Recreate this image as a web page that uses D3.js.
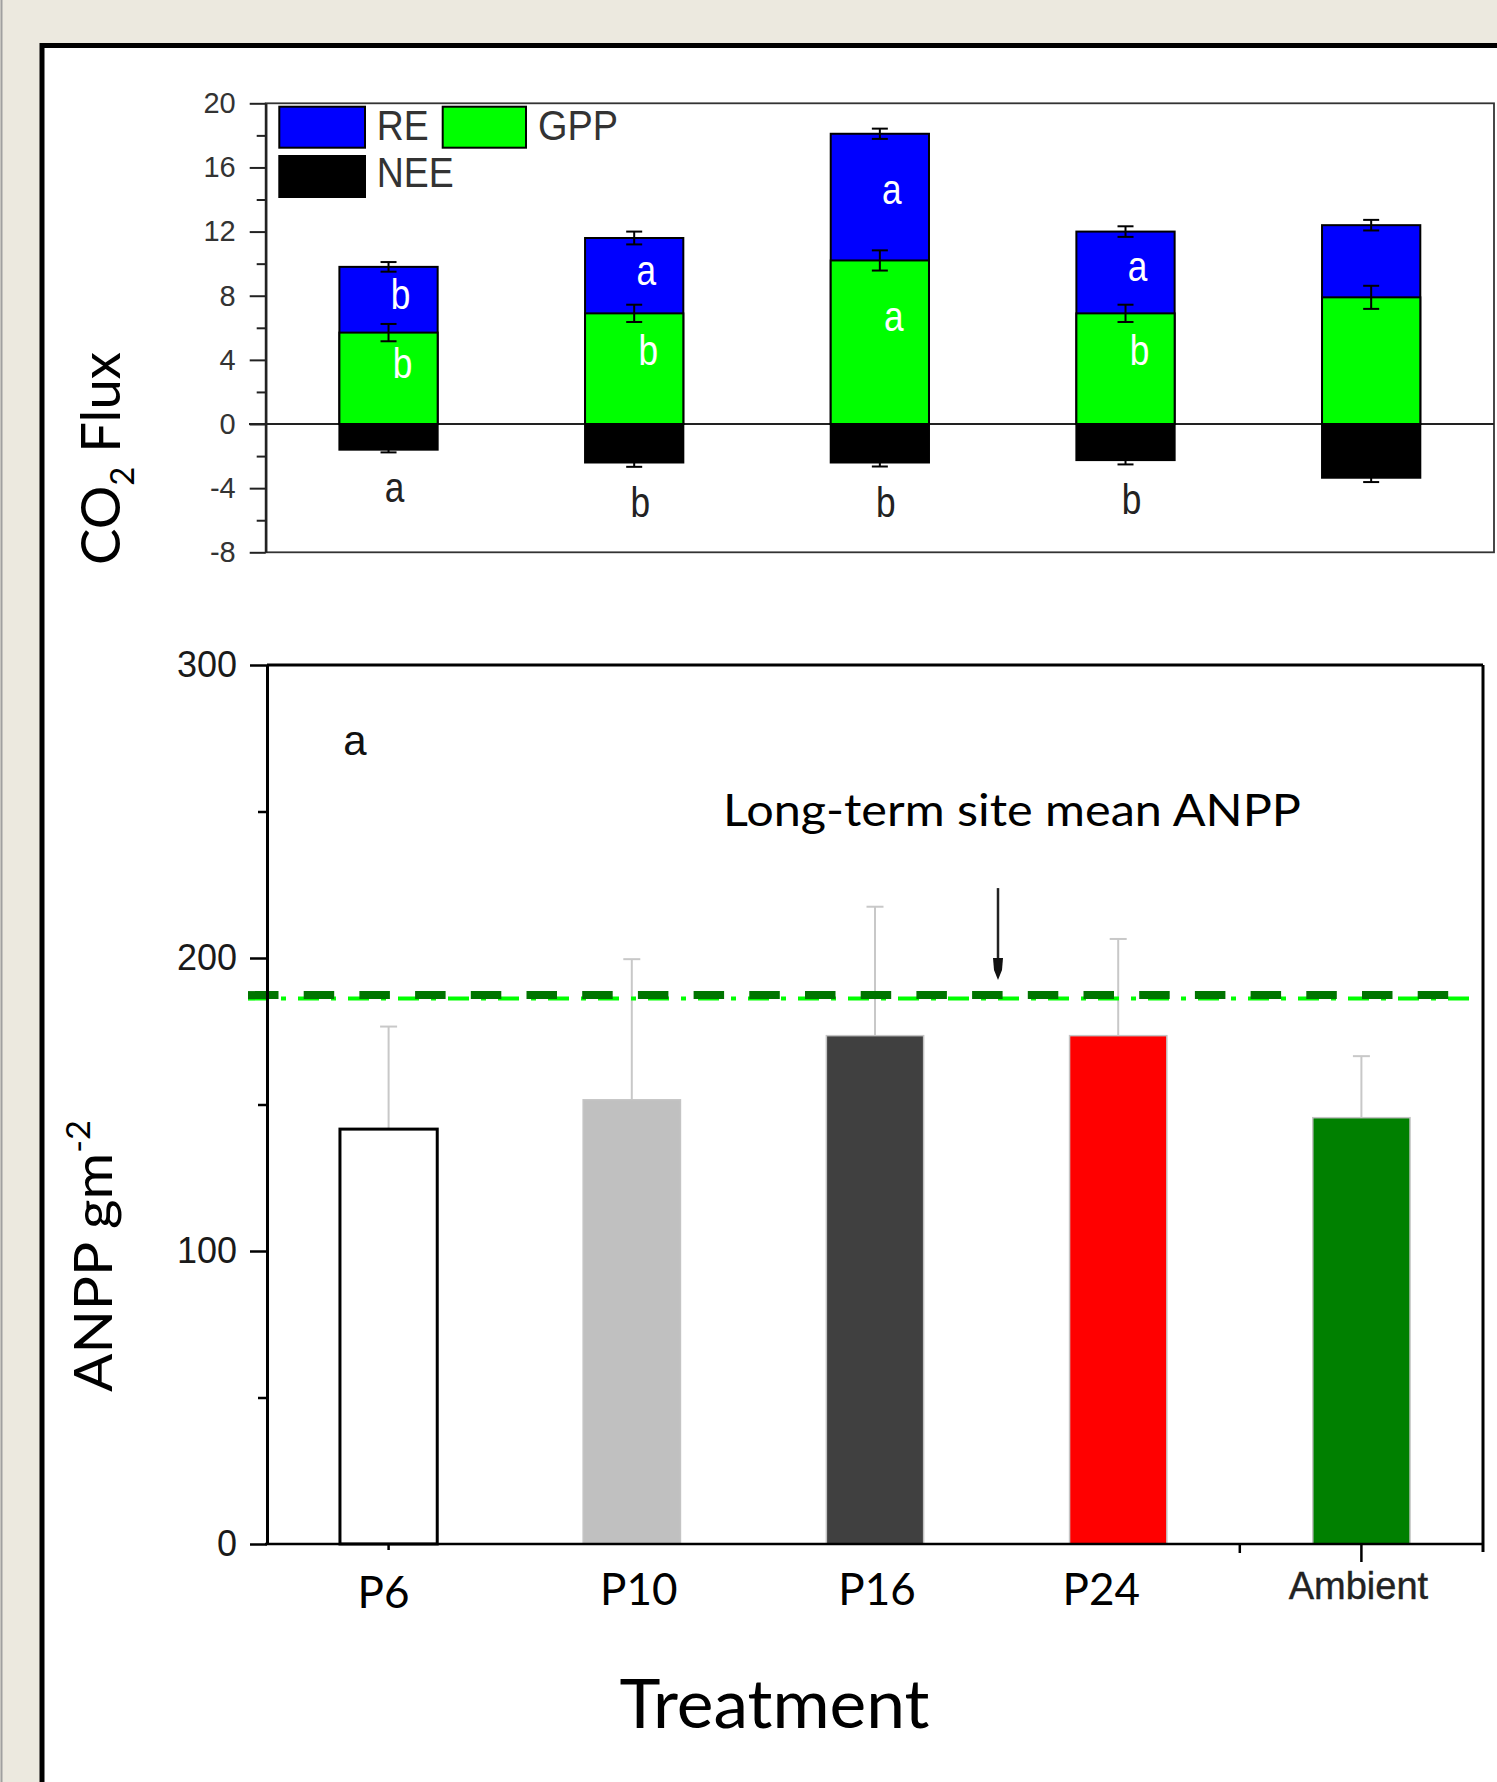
<!DOCTYPE html>
<html>
<head>
<meta charset="utf-8">
<script src="https://cdn.jsdelivr.net/npm/d3@7"></script>
<style>
  body { margin: 0; background: #ece9df; }
  svg { display: block; }
</style>
</head>
<body>
<svg id="fig"></svg>
<script>
// treatments shared by both panels
var treatments = ["P6", "P10", "P16", "P24", "Ambient"];

// top panel: CO2 flux components (means and SE)
var reMean  = [9.8, 11.6, 18.1, 12.0, 12.4];
var reErr   = [0.3, 0.4, 0.32, 0.33, 0.33];
var gppMean = [5.7, 6.9, 10.2, 6.9, 7.9];
var gppErr  = [0.54, 0.54, 0.63, 0.54, 0.72];
var neeMean = [-1.6, -2.4, -2.4, -2.25, -3.35];
var neeErr  = [0.17, 0.27, 0.25, 0.27, 0.27];
var reLetters  = ["b", "a", "a", "a", ""];
var gppLetters = ["b", "b", "a", "b", ""];
var neeLetters = ["a", "b", "b", "b", ""];
var fluxTicks  = [-8, -4, 0, 4, 8, 12, 16, 20];
var fluxMinor  = [-6, -2, 2, 6, 10, 14, 18];

// bottom panel: ANPP
var anppMean = [141.6, 151.6, 173.5, 173.5, 145.5];
var anppErr  = [35, 48, 44, 33, 21];
var longTermMean = 187;
var anppTicks = [0, 100, 200, 300];
var anppMinor = [50, 150, 250];
var anppColors = ["#ffffff", "#c0c0c0", "#404040", "#ff0000", "#008000"];

var W = 1497, H = 1782;
var svg = d3.select("#fig").attr("width", W).attr("height", H);
var arial = "'Liberation Sans', Arial, sans-serif";
var calibri = "Lato, 'Open Sans', sans-serif";
var plain = function (d) { return String(d); };   // hyphen minus like the original

// slide frame
svg.append("line").attr("x1", 1.5).attr("x2", 1.5).attr("y1", 0).attr("y2", H)
   .attr("stroke", "#a0a0a0").attr("stroke-width", 2);
svg.append("rect").attr("x", 42).attr("y", 45.5).attr("width", 1700).attr("height", 2000)
   .attr("fill", "white").attr("stroke", "black").attr("stroke-width", 5);

// ---------------- top panel ----------------
var xT = d3.scaleBand().domain(treatments).range([265.7, 1494]).paddingInner(0.6).paddingOuter(0.3);
var yT = d3.scaleLinear().domain([-8, 20]).range([552.3, 103.3]);
var gTop = svg.append("g");

gTop.append("rect")
   .attr("x", xT.range()[0]).attr("y", yT(20))
   .attr("width", xT.range()[1] - xT.range()[0]).attr("height", yT(-8) - yT(20))
   .attr("fill", "none").attr("stroke", "#333").attr("stroke-width", 1.8);

gTop.append("line").attr("x1", 249).attr("x2", xT.range()[1])
   .attr("y1", yT(0)).attr("y2", yT(0)).attr("stroke", "#222").attr("stroke-width", 2);

var idx = d3.range(treatments.length);

function segment(vals, base, color) {
  gTop.selectAll(null).data(idx).enter().append("rect")
     .attr("x", function (i) { return xT(treatments[i]); })
     .attr("width", xT.bandwidth())
     .attr("y", function (i) { return Math.min(yT(vals[i]), yT(base)); })
     .attr("height", function (i) { return Math.abs(yT(vals[i]) - yT(base)); })
     .attr("fill", color).attr("stroke", "black").attr("stroke-width", 2);
}
segment(reMean, 0, "#0000ff");
segment(gppMean, 0, "#00ff00");
segment(neeMean, 0, "#000000");

function errBar(g, cx, ys, lo, hi, cap, color, w, capLo) {
  var half = cap / 2;
  g.append("line").attr("x1", cx).attr("x2", cx).attr("y1", ys(lo)).attr("y2", ys(hi))
   .attr("stroke", color).attr("stroke-width", w);
  g.append("line").attr("x1", cx - half).attr("x2", cx + half).attr("y1", ys(hi)).attr("y2", ys(hi))
   .attr("stroke", color).attr("stroke-width", w);
  if (capLo) {
    g.append("line").attr("x1", cx - half).attr("x2", cx + half).attr("y1", ys(lo)).attr("y2", ys(lo))
     .attr("stroke", color).attr("stroke-width", w);
  }
}
idx.forEach(function (i) {
  var cx = xT(treatments[i]) + xT.bandwidth() / 2;
  errBar(gTop, cx, yT, reMean[i] - reErr[i], reMean[i] + reErr[i], 16, "#000", 2, true);
  errBar(gTop, cx, yT, gppMean[i] - gppErr[i], gppMean[i] + gppErr[i], 16, "#000", 2, true);
  errBar(gTop, cx, yT, neeMean[i], neeMean[i] - neeErr[i], 16, "#000", 2, false);
});

// significance letters (narrow Arial look)
function letter(g, x, y, txt, color) {
  g.append("g").attr("transform", "translate(" + x + "," + y + ") scale(0.84,1)")
   .append("text").attr("text-anchor", "middle")
   .attr("font-family", arial).attr("font-size", 42).attr("fill", color).text(txt);
}
idx.forEach(function (i) {
  var cx = xT(treatments[i]) + xT.bandwidth() / 2;
  var reTop = yT(reMean[i]), gppTop = yT(gppMean[i]), zero = yT(0);
  letter(gTop, cx + 12, reTop + 0.45 * (gppTop - reTop) + 13, reLetters[i], "#fff");
  letter(gTop, cx + 14, gppTop + 0.35 * (zero - gppTop) + 13, gppLetters[i], "#fff");
  letter(gTop, cx + 6, yT(neeMean[i] - neeErr[i]) + 50, neeLetters[i], "#222");
});

// y axis
var axT = gTop.append("g").attr("transform", "translate(" + xT.range()[0] + ",0)")
   .call(d3.axisLeft(yT).tickValues(fluxTicks).tickFormat(plain)
           .tickSize(16).tickPadding(14).tickSizeOuter(0));
axT.select(".domain").attr("stroke", "#222").attr("stroke-width", 2.5);
axT.selectAll(".tick line").attr("stroke", "#222").attr("stroke-width", 2);
axT.selectAll(".tick text").attr("font-family", arial).attr("font-size", 29).attr("fill", "#333");
var axTm = gTop.append("g").attr("transform", "translate(" + xT.range()[0] + ",0)")
   .call(d3.axisLeft(yT).tickValues(fluxMinor).tickSize(9).tickFormat(""));
axTm.select(".domain").remove();
axTm.selectAll(".tick line").attr("stroke", "#222").attr("stroke-width", 2);

// legend
var legendItems = [
  { name: "RE",  color: "#0000ff", x: 279.3, y: 106.7, w: 85.7, tx: 376.7, ty: 140, tl: 52 },
  { name: "GPP", color: "#00ff00", x: 442.7, y: 106.7, w: 83.3, tx: 538,   ty: 140, tl: 80 },
  { name: "NEE", color: "#000000", x: 279.3, y: 156,   w: 85.7, tx: 376.7, ty: 186.7, tl: 77 }
];
legendItems.forEach(function (d) {
  gTop.append("rect").attr("x", d.x).attr("y", d.y).attr("width", d.w).attr("height", 41)
     .attr("fill", d.color).attr("stroke", "black").attr("stroke-width", 2);
  gTop.append("text").attr("x", d.tx).attr("y", d.ty).attr("font-family", arial)
     .attr("font-size", 42).attr("fill", "#333")
     .attr("textLength", d.tl).attr("lengthAdjust", "spacingAndGlyphs").text(d.name);
});

// y title: CO2 Flux
var t1 = svg.append("text").attr("transform", "translate(120,565) rotate(-90)")
   .attr("font-family", calibri).attr("font-size", 55).attr("fill", "#000")
   .attr("textLength", 213).attr("lengthAdjust", "spacingAndGlyphs");
t1.append("tspan").text("CO");
t1.append("tspan").attr("font-size", 33).attr("dy", 14).text("2");
t1.append("tspan").attr("dy", -14).text(" Flux");

// ---------------- bottom panel ----------------
var xB = d3.scaleBand().domain(treatments).range([267, 1483]).paddingInner(0.6).paddingOuter(0.3);
var yB = d3.scaleLinear().domain([0, 300]).range([1544, 665]);
var gBot = svg.append("g");

// border
gBot.append("line").attr("x1", xB.range()[0]).attr("x2", xB.range()[1])
   .attr("y1", yB(300)).attr("y2", yB(300)).attr("stroke", "#000").attr("stroke-width", 3);
gBot.append("line").attr("x1", xB.range()[1]).attr("x2", xB.range()[1])
   .attr("y1", yB(300)).attr("y2", yB(0) + 8).attr("stroke", "#000").attr("stroke-width", 3);

// error bars (upper only, light grey)
idx.forEach(function (i) {
  var cx = xB(treatments[i]) + xB.bandwidth() / 2;
  errBar(gBot, cx, yB, anppMean[i], anppMean[i] + anppErr[i], 17, "#c8c8c8", 2, false);
});

gBot.selectAll(null).data(idx).enter().append("rect")
   .attr("x", function (i) { return xB(treatments[i]); })
   .attr("width", xB.bandwidth())
   .attr("y", function (i) { return yB(anppMean[i]); })
   .attr("height", function (i) { return yB(0) - yB(anppMean[i]); })
   .attr("fill", function (i) { return anppColors[i]; })
   .attr("stroke", function (i) { return i === 0 ? "#000" : "#c4c4c4"; })
   .attr("stroke-width", function (i) { return i === 0 ? 3 : 1.5; });

// long-term mean line (two overlapping dashed lines)
gBot.append("line").attr("x1", 248).attr("x2", 1470)
   .attr("y1", yB(longTermMean) + 2.5).attr("y2", yB(longTermMean) + 2.5)
   .attr("stroke", "#00ff00").attr("stroke-width", 4).attr("stroke-dasharray", "21,12,5,12");
gBot.append("line").attr("x1", 248).attr("x2", 1470)
   .attr("y1", yB(longTermMean) - 1).attr("y2", yB(longTermMean) - 1)
   .attr("stroke", "#007400").attr("stroke-width", 8).attr("stroke-dasharray", "30.5,25.2");

// arrow + annotation
var tipY = yB(longTermMean) - 16;
gBot.append("line").attr("x1", 998).attr("x2", 998).attr("y1", tipY - 92).attr("y2", tipY - 14)
   .attr("stroke", "#222").attr("stroke-width", 2.5);
gBot.append("path")
   .attr("d", "M993," + (tipY - 22) + " L1003," + (tipY - 22) + " L1002," + (tipY - 10) +
              " L998," + tipY + " L994," + (tipY - 10) + " Z")
   .attr("fill", "#111");
gBot.append("text").attr("x", 723).attr("y", 826).attr("font-family", calibri)
   .attr("font-size", 45).attr("fill", "#000")
   .attr("textLength", 578).attr("lengthAdjust", "spacingAndGlyphs")
   .text("Long-term site mean ANPP");
gBot.append("text").attr("x", 355).attr("y", 755).attr("text-anchor", "middle")
   .attr("font-family", arial).attr("font-size", 42).attr("fill", "#111").text("a");

// y axis
var axB = gBot.append("g").attr("transform", "translate(" + xB.range()[0] + ",0)")
   .call(d3.axisLeft(yB).tickValues(anppTicks).tickFormat(plain)
           .tickSize(17).tickPadding(13).tickSizeOuter(0));
axB.select(".domain").attr("stroke", "#000").attr("stroke-width", 3);
axB.selectAll(".tick line").attr("stroke", "#000").attr("stroke-width", 2.5);
axB.selectAll(".tick text").attr("font-family", arial).attr("font-size", 36).attr("fill", "#1a1a1a");
var axBm = gBot.append("g").attr("transform", "translate(" + xB.range()[0] + ",0)")
   .call(d3.axisLeft(yB).tickValues(anppMinor).tickSize(9).tickFormat(""));
axBm.select(".domain").remove();
axBm.selectAll(".tick line").attr("stroke", "#000").attr("stroke-width", 2.5);

// x axis line and the few ticks that show
gBot.append("line").attr("x1", xB.range()[0] - 2).attr("x2", xB.range()[1])
   .attr("y1", yB(0)).attr("y2", yB(0)).attr("stroke", "#000").attr("stroke-width", 2.5);
var gap = xB.step() - xB.bandwidth();
var xTicks = [
  { x: xB("P6") + xB.bandwidth() / 2, len: 6 },
  { x: xB("Ambient") - gap / 2, len: 9 },
  { x: xB("Ambient") + xB.bandwidth() / 2, len: 18 }
];
xTicks.forEach(function (t) {
  gBot.append("line").attr("x1", t.x).attr("x2", t.x).attr("y1", yB(0)).attr("y2", yB(0) + t.len)
     .attr("stroke", "#000").attr("stroke-width", 2.5);
});

// category labels (slight hand-placed nudges as in the original slide)
var labelNudge = [-5, 7, 2, -17, -3];
idx.forEach(function (i) {
  var cx = xB(treatments[i]) + xB.bandwidth() / 2 + labelNudge[i];
  if (treatments[i] === "Ambient") {
    gBot.append("text").attr("x", cx).attr("y", 1599).attr("text-anchor", "middle")
       .attr("font-family", arial).attr("font-size", 38).attr("fill", "#222")
       .attr("stroke", "#222").attr("stroke-width", 0.4).text(treatments[i]);
  } else {
    gBot.append("text").attr("x", cx).attr("y", i === 0 ? 1608 : 1605).attr("text-anchor", "middle")
       .attr("font-family", calibri).attr("font-size", 44).attr("fill", "#000").text(treatments[i]);
  }
});

// axis titles
gBot.append("text").attr("x", 619.5).attr("y", 1728).attr("font-family", calibri)
   .attr("font-size", 67).attr("fill", "#000")
   .attr("textLength", 310).attr("lengthAdjust", "spacingAndGlyphs").text("Treatment");

var t2 = svg.append("text").attr("transform", "translate(112,1392) rotate(-90)")
   .attr("font-family", calibri).attr("font-size", 53).attr("fill", "#000")
   .attr("textLength", 272).attr("lengthAdjust", "spacingAndGlyphs");
t2.append("tspan").text("ANPP gm");
t2.append("tspan").attr("font-size", 32).attr("dy", -22).text("-2");
</script>
</body>
</html>
